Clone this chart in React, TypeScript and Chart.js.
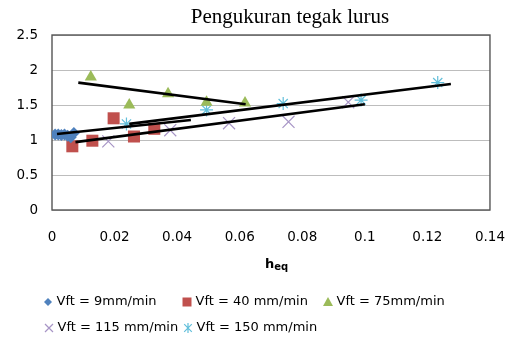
import React, { useEffect, useRef } from "react";
import { Chart, registerables } from "chart.js";

Chart.register(...registerables);

// ---- data ----
const titleText = "Pengukuran tegak lurus";
const seriesNames = [
  "Vft = 9mm/min",
  "Vft = 40 mm/min",
  "Vft = 75mm/min",
  "Vft = 115 mm/min",
  "Vft = 150 mm/min",
];
const xTickValues = [0, 0.02, 0.04, 0.06, 0.08, 0.1, 0.12, 0.14];
const yTickValues = [0, 0.5, 1, 1.5, 2, 2.5];

const blueX = [0.001, 0.002, 0.003, 0.004, 0.005, 0.006, 0.007];
const blueY = [1.08, 1.08, 1.07, 1.08, 1.06, 1.04, 1.1];
const redX = [0.0065, 0.0129, 0.0197, 0.0262, 0.0327];
const redY = [0.91, 0.99, 1.31, 1.05, 1.16];
const greenX = [0.0124, 0.0247, 0.0371, 0.0494, 0.0617];
const greenY = [1.9, 1.5, 1.66, 1.54, 1.53];
const purpleX = [0.018, 0.0378, 0.0566, 0.0756, 0.0947];
const purpleY = [0.98, 1.14, 1.24, 1.26, 1.54];
const cyanX = [0.0238, 0.0494, 0.0739, 0.0988, 0.1233];
const cyanY = [1.23, 1.43, 1.52, 1.57, 1.82];

// trend lines (end points)
const trendGreenX = [0.0084, 0.0619];
const trendGreenY = [1.82, 1.51];
const trendCyanX = [0.0247, 0.1275];
const trendCyanY = [1.23, 1.8];
const trendMidX = [0.0075, 0.1];
const trendMidY = [0.97, 1.51];
const trendBlueX = [0.0016, 0.0444];
const trendBlueY = [1.085, 1.285];

const zip = (xs: number[], ys: number[]) => xs.map((x, i) => ({ x, y: ys[i] }));

const COLORS = ["#4F81BD", "#C0504D", "#9BBB59", "#A795C6", "#62BFDA"];

function drawMarker(ctx: CanvasRenderingContext2D, style: string, x: number, y: number, r: number, color: string) {
  ctx.save();
  ctx.fillStyle = color;
  ctx.strokeStyle = color;
  ctx.lineWidth = 1.2;
  ctx.beginPath();
  if (style === "rectRot") {
    ctx.moveTo(x - r, y);
    ctx.lineTo(x, y - r);
    ctx.lineTo(x + r, y);
    ctx.lineTo(x, y + r);
    ctx.closePath();
    ctx.fill();
  } else if (style === "rect") {
    ctx.rect(x - r, y - r, 2 * r, 2 * r);
    ctx.fill();
  } else if (style === "triangle") {
    ctx.moveTo(x, y - r);
    ctx.lineTo(x + r, y + r * 0.8);
    ctx.lineTo(x - r, y + r * 0.8);
    ctx.closePath();
    ctx.fill();
  } else if (style === "crossRot") {
    ctx.moveTo(x - r, y - r);
    ctx.lineTo(x + r, y + r);
    ctx.moveTo(x + r, y - r);
    ctx.lineTo(x - r, y + r);
    ctx.stroke();
  } else if (style === "star") {
    ctx.moveTo(x - r, y - r);
    ctx.lineTo(x + r, y + r);
    ctx.moveTo(x + r, y - r);
    ctx.lineTo(x - r, y + r);
    ctx.moveTo(x, y - r * 1.3);
    ctx.lineTo(x, y + r * 1.3);
    ctx.stroke();
  }
  ctx.restore();
}

const decorPlugin = {
  id: "decor",
  beforeDatasetsDraw(chart: any) {
    const { ctx, chartArea } = chart;
    ctx.save();
    ctx.strokeStyle = "#555555";
    ctx.lineWidth = 1.4;
    ctx.strokeRect(chartArea.left, chartArea.top, chartArea.right - chartArea.left, chartArea.bottom - chartArea.top);
    ctx.restore();
  },
  afterDraw(chart: any) {
    const { ctx } = chart;
    ctx.save();
    // title
    ctx.fillStyle = "#000";
    ctx.font = '21px "Liberation Serif", serif';
    ctx.textAlign = "center";
    ctx.textBaseline = "alphabetic";
    ctx.fillText(titleText, 290, 23);

    // axis title h_eq
    ctx.textAlign = "left";
    ctx.font = 'bold 13px "DejaVu Sans", sans-serif';
    const hW = ctx.measureText("h").width;
    ctx.font = 'bold 10px "DejaVu Sans", sans-serif';
    const eW = ctx.measureText("eq").width;
    const start = 276.5 - (hW + eW) / 2;
    ctx.font = 'bold 13px "DejaVu Sans", sans-serif';
    ctx.fillText("h", start, 268);
    ctx.font = 'bold 10px "DejaVu Sans", sans-serif';
    ctx.fillText("eq", start + hW, 270);

    // legend
    const styles = ["rectRot", "rect", "triangle", "crossRot", "star"];
    const sizes = [4, 4.5, 5, 4, 3.8];
    const pos = [
      [48, 302],
      [187, 302],
      [328, 302],
      [49, 328],
      [188, 328],
    ];
    ctx.font = '13px "DejaVu Sans", sans-serif';
    ctx.textBaseline = "middle";
    seriesNames.forEach((name, i) => {
      const [mx, my] = pos[i];
      drawMarker(ctx, styles[i], mx, my, sizes[i], COLORS[i]);
      ctx.fillStyle = "#000";
      ctx.fillText(name, mx + 8.5, my);
    });
    ctx.restore();
  },
};

export default function App() {
  const ref = useRef<HTMLCanvasElement>(null);
  useEffect(() => {
    if (!ref.current) return;
    const lineDs = (xs: number[], ys: number[]) => ({
      data: zip(xs, ys),
      showLine: true,
      borderColor: "#000000",
      backgroundColor: "#000000",
      borderWidth: 2.6,
      pointRadius: 0,
      order: 0,
    });
    const chart = new Chart(ref.current, {
      type: "scatter",
      data: {
        datasets: [
          lineDs(trendGreenX, trendGreenY),
          lineDs(trendCyanX, trendCyanY),
          lineDs(trendMidX, trendMidY),
          lineDs(trendBlueX, trendBlueY),
          {
            label: seriesNames[0],
            data: zip(blueX, blueY),
            pointStyle: "rectRot",
            pointRadius: 6,
            backgroundColor: COLORS[0],
            borderColor: COLORS[0],
            borderWidth: 0,
            order: 1,
          },
          {
            label: seriesNames[1],
            data: zip(redX, redY),
            pointStyle: "rect",
            pointRadius: 8.5,
            backgroundColor: COLORS[1],
            borderColor: COLORS[1],
            borderWidth: 0,
            order: 1,
          },
          {
            label: seriesNames[2],
            data: zip(greenX, greenY),
            pointStyle: "triangle",
            pointRadius: 7,
            backgroundColor: COLORS[2],
            borderColor: COLORS[2],
            borderWidth: 0,
            order: 1,
          },
          {
            label: seriesNames[3],
            data: zip(purpleX, purpleY),
            pointStyle: "crossRot",
            pointRadius: 8.5,
            backgroundColor: COLORS[3],
            borderColor: COLORS[3],
            borderWidth: 1.2,
            order: 1,
          },
          {
            label: seriesNames[4],
            data: zip(cyanX, cyanY),
            pointStyle: "star",
            pointRadius: 6.5,
            backgroundColor: COLORS[4],
            borderColor: COLORS[4],
            borderWidth: 1.2,
            order: 1,
          },
        ],
      },
      options: {
        responsive: false,
        animation: false,
        devicePixelRatio: 1,
        layout: { padding: { top: 35, right: 24, left: 0, bottom: 0 } },
        plugins: { legend: { display: false }, title: { display: false }, tooltip: { enabled: false } },
        scales: {
          x: {
            type: "linear",
            min: 0,
            max: 0.14,
            afterFit: (s: any) => {
              s.height = 131;
            },
            afterBuildTicks: (s: any) => {
              s.ticks = xTickValues.map((v) => ({ value: v }));
            },
            ticks: {
              padding: 19,
              color: "#000",
              font: { family: '"DejaVu Sans", sans-serif', size: 13.5 },
              callback: (v: any) => String(parseFloat(Number(v).toFixed(2))),
              maxRotation: 0,
              autoSkip: false,
            },
            grid: { display: false, drawTicks: false },
            border: { display: false },
          },
          y: {
            type: "linear",
            min: 0,
            max: 2.5,
            afterFit: (s: any) => {
              s.width = 52;
            },
            afterBuildTicks: (s: any) => {
              s.ticks = yTickValues.map((v) => ({ value: v }));
            },
            ticks: {
              padding: 14,
              color: "#000",
              font: { family: '"DejaVu Sans", sans-serif', size: 13.5 },
              callback: (v: any) => String(parseFloat(Number(v).toFixed(2))),
            },
            grid: { color: "#bdbdbd", lineWidth: 1, drawTicks: false },
            border: { display: false },
          },
        },
      },
      plugins: [decorPlugin],
    });
    return () => chart.destroy();
  }, []);
  return (
    <div style={{ position: "fixed", left: 0, top: 0, width: 524, height: 341, background: "#fff" }}>
      <canvas ref={ref} width={524} height={341} style={{ width: 524, height: 341, display: "block" }} />
    </div>
  );
}
